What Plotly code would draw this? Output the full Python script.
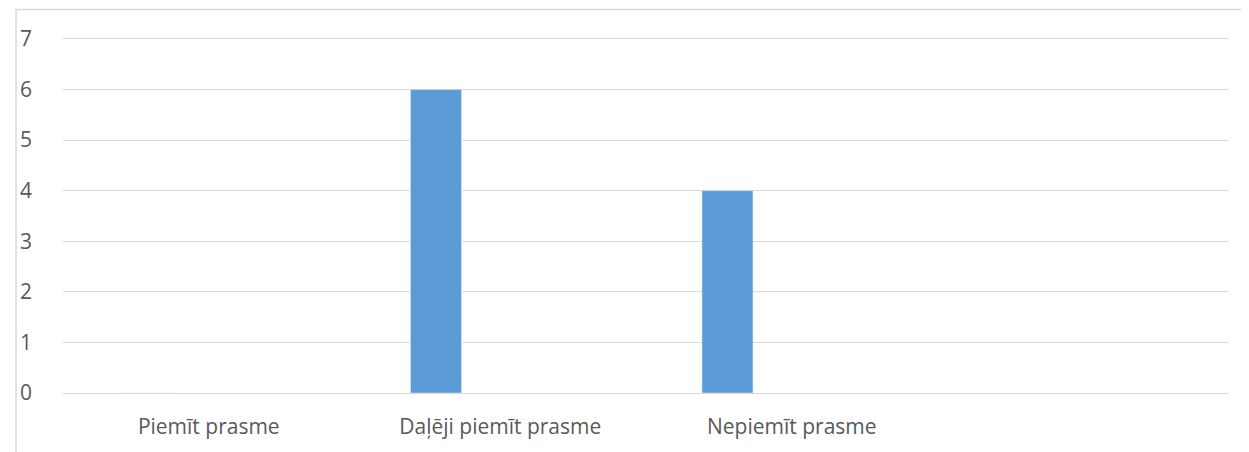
import plotly.graph_objects as go

categories = ["Piemīt prasme", "Daļēji piemīt prasme", "Nepiemīt prasme"]
values = [0, 6, 4]
y_ticks = [0, 1, 2, 3, 4, 5, 6, 7]

# page body has an 8px margin, so the figure is drawn 8px smaller
fig_w, fig_h = 1241, 444
ml, mr, mt, mb = 48, 20, 31, 53
plot_w = fig_w - ml - mr
plot_h = fig_h - mt - mb

fig = go.Figure(data=[go.Bar(
    x=categories,
    y=values,
    marker_color="#5B9BD5",
    width=0.175,
    offset=-0.308,
    hoverinfo="x+y",
)])

fig.update_layout(
    width=fig_w,
    height=fig_h,
    margin=dict(l=ml, r=mr, t=mt, b=mb),
    paper_bgcolor="white",
    plot_bgcolor="white",
    showlegend=False,
    font=dict(family="Open Sans", size=21, color="#595959"),
    xaxis=dict(
        range=[-0.5, 3.5],
        showgrid=False,
        showline=True,
        mirror=True,
        linecolor="#d9d9d9",
        linewidth=1.3,
        ticks="",
        ticklabelstandoff=15,
    ),
    yaxis=dict(
        range=[0, 7],
        tickvals=y_ticks,
        showgrid=True,
        gridcolor="#d9d9d9",
        gridwidth=1.3,
        zeroline=False,
        ticks="",
        ticklabelstandoff=30,
    ),
    shapes=[dict(
        type="rect", xref="paper", yref="paper",
        x0=(0.75 - ml) / plot_w, x1=1.1,
        y0=-0.3, y1=1 + (mt - 1) / plot_h,
        line=dict(color="#d9d9d9", width=1.5),
        layer="below",
    )],
)

fig.write_html("out.html")
